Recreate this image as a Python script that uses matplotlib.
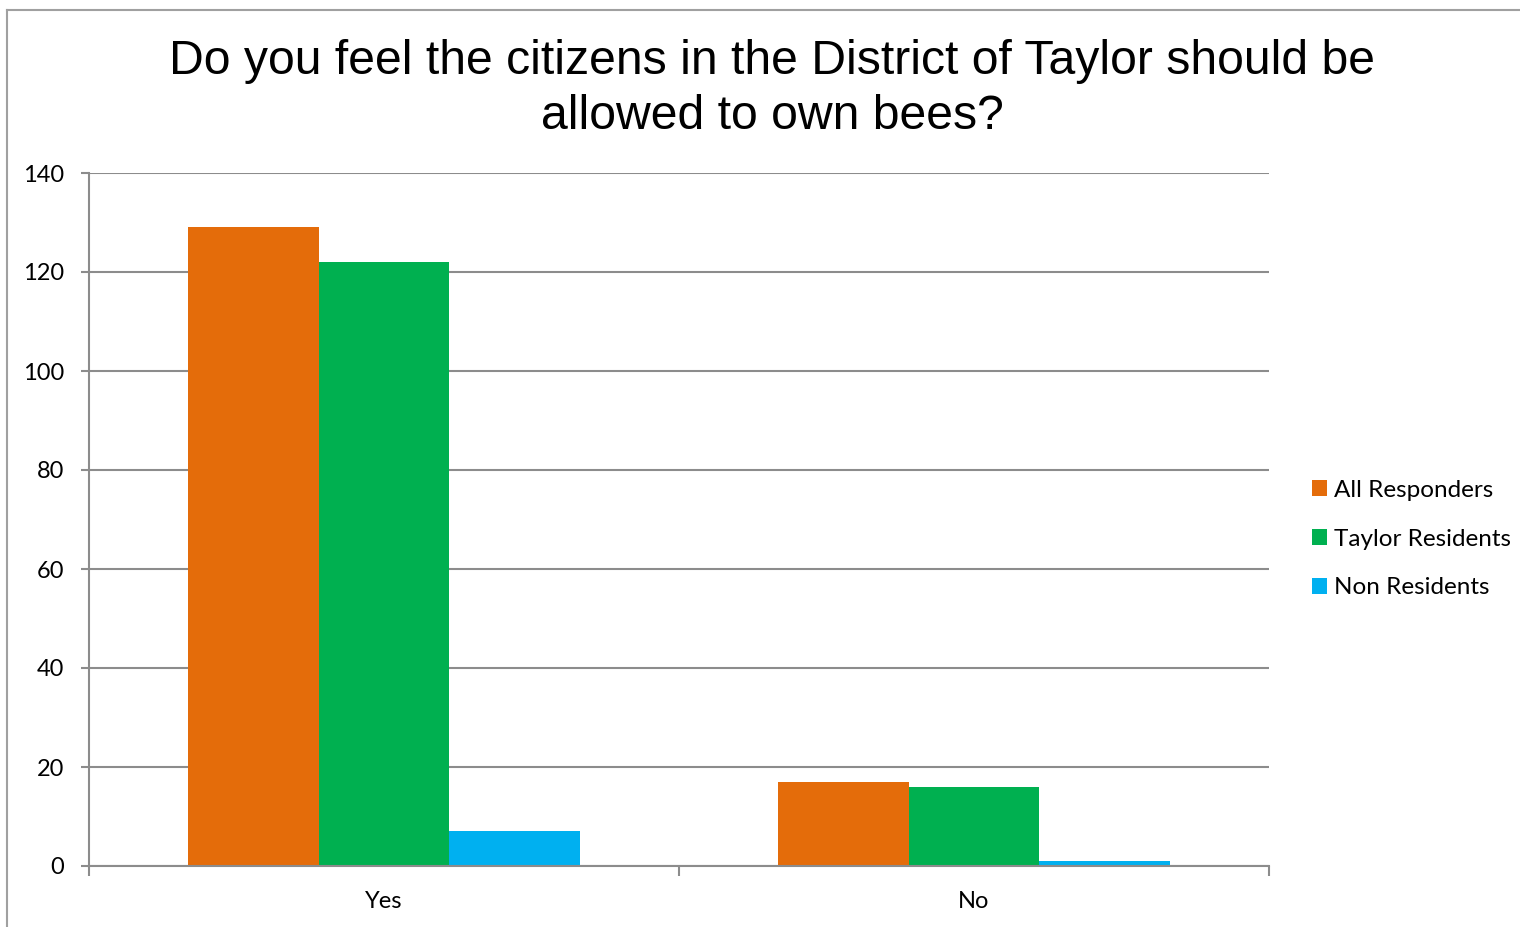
import matplotlib.pyplot as plt
from matplotlib.lines import Line2D
import numpy as np

categories = ["Yes", "No"]
series_names = ["All Responders", "Taylor Residents", "Non Residents"]
all_responders = [129, 17]
taylor_residents = [122, 16]
non_residents = [7, 1]
colors = ["#E46C0A", "#00B050", "#00B0F0"]

plt.rcParams['font.family'] = ['Lato', 'DejaVu Sans']

fig = plt.figure(figsize=(15.2, 9.27), dpi=100, facecolor='white')
ax = fig.add_axes([89/1520, 1-866/927, (1269-89)/1520, (866-173)/927])

x = np.arange(len(categories))
w = 0.222
for i, (vals, name) in enumerate(zip([all_responders, taylor_residents, non_residents], series_names)):
    ax.bar(x + (i-1)*w, vals, width=w, color=colors[i], label=name, zorder=3)

grid_c = "#8c8c8c"
ax.set_ylim(0, 140)
ax.set_xlim(-0.5, 1.5)
ax.set_yticks(range(0, 141, 20))
ax.yaxis.grid(True, color=grid_c, linewidth=1.5, zorder=0)
ax.set_xticks(x)
ax.set_xticklabels(categories)
ax.set_xticks([-0.5, 0.5, 1.5], minor=True)
ax.tick_params(axis='x', which='major', length=0, pad=18, labelsize=17)
ax.tick_params(axis='x', which='minor', length=7, width=1.5, color=grid_c)
ax.tick_params(axis='y', length=6, width=1.5, color=grid_c, labelsize=17, pad=12)
for s in ['top', 'right']:
    ax.spines[s].set_visible(False)
for s in ['left', 'bottom']:
    ax.spines[s].set_color(grid_c)
    ax.spines[s].set_linewidth(1.5)
ax.spines['bottom'].set_zorder(4)

leg = fig.legend(loc='center left', bbox_to_anchor=(1302/1520, 1-539/927), frameon=False,
                 fontsize=17.5, handlelength=0.62, handleheight=0.62, handletextpad=0.3,
                 labelspacing=1.15, borderaxespad=0)

fig.text(772/1520, 1-89/927,
         "Do you feel the citizens in the District of Taylor should be\nallowed to own bees?",
         ha='center', va='center', fontsize=34.7, family=['Liberation Sans', 'DejaVu Sans'],
         linespacing=1.3)

# outer chart border (top and left edges visible)
fig.add_artist(Line2D([6.5/1520, 1.01], [1-9.5/927, 1-9.5/927], color="#a0a0a0", linewidth=1.5,
                      transform=fig.transFigure))
fig.add_artist(Line2D([6.5/1520, 6.5/1520], [-0.01, 1-9.5/927], color="#a0a0a0", linewidth=1.5,
                      transform=fig.transFigure))

plt.savefig('out.png', dpi=100, facecolor='white')
